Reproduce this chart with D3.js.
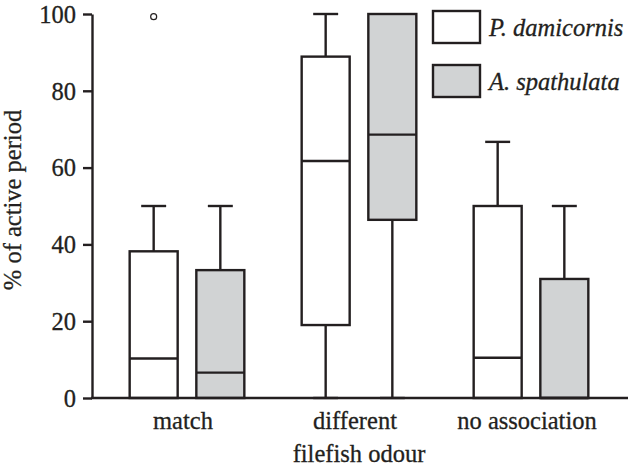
<!DOCTYPE html>
<html>
<head>
<meta charset="utf-8">
<script src="https://cdn.jsdelivr.net/npm/d3@7"></script>
<style>
  body { margin: 0; background: #fff; }
  svg { display: block; }
  svg text { font-family: "Liberation Serif", "Times New Roman", serif; fill: #231f20; stroke: #231f20; stroke-width: 0.3px; }
</style>
</head>
<body>
<div id="chart"></div>
<script>
// values (% of active period)
var categories = ["match", "different", "no association"];
var seriesNames = ["P. damicornis", "A. spathulata"];
var yTicks = [0, 20, 40, 60, 80, 100];

var pdMin = [0, 0, 0];
var pdQ1 = [0, 19, 0];
var pdMedian = [10.3, 61.7, 10.5];
var pdQ3 = [38.2, 88.9, 50];
var pdMax = [50, 100, 66.7];
var pdOutliers = [[99.3], [], []];

var asMin = [0, 0, 0];
var asQ1 = [0, 46.4, 0];
var asMedian = [6.6, 68.6, 0];
var asQ3 = [33.3, 100, 31];
var asMax = [50, 100, 50];
var asOutliers = [[], [], []];

var seriesFill = ["#ffffff", "#d1d3d4"];
var ink = "#231f20";
var fontFam = "'Liberation Serif', 'Times New Roman', serif";
var fontSize = 24.5;

var width = 628, height = 469;
var margin = { top: 14, right: 0, bottom: 71, left: 92 };

var svg = d3.select("#chart").append("svg")
    .attr("width", width)
    .attr("height", height)
    .attr("font-family", fontFam);

var y = d3.scaleLinear()
    .domain([0, 100])
    .range([height - margin.bottom, margin.top]);

var x = d3.scaleBand()
    .domain(categories)
    .range([101, 617]);

var xs = d3.scaleBand()
    .domain(seriesNames)
    .range([0, x.bandwidth()])
    .paddingInner(0.28)
    .paddingOuter(0.43);

// build per-box records from the arrays
var boxes = [];
categories.forEach(function(c, i) {
    boxes.push({ cat: c, ser: seriesNames[0], min: pdMin[i], q1: pdQ1[i], med: pdMedian[i], q3: pdQ3[i], max: pdMax[i], out: pdOutliers[i], fill: seriesFill[0] });
    boxes.push({ cat: c, ser: seriesNames[1], min: asMin[i], q1: asQ1[i], med: asMedian[i], q3: asQ3[i], max: asMax[i], out: asOutliers[i], fill: seriesFill[1] });
});

var bw = xs.bandwidth();
var capW = bw * 0.52;
var sw = 2.4;

var g = svg.append("g").attr("class", "boxes");

var box = g.selectAll("g.box")
    .data(boxes)
    .enter().append("g")
    .attr("class", "box")
    .attr("transform", function(d) { return "translate(" + (x(d.cat) + xs(d.ser)) + ",0)"; });

// upper whisker
box.filter(function(d) { return d.max > d.q3; }).each(function(d) {
    var s = d3.select(this);
    s.append("line")
        .attr("x1", bw / 2).attr("x2", bw / 2)
        .attr("y1", y(d.q3)).attr("y2", y(d.max))
        .attr("stroke", ink).attr("stroke-width", sw);
    s.append("line")
        .attr("x1", bw / 2 - capW / 2).attr("x2", bw / 2 + capW / 2)
        .attr("y1", y(d.max)).attr("y2", y(d.max))
        .attr("stroke", ink).attr("stroke-width", sw);
});

// lower whisker
box.filter(function(d) { return d.min < d.q1; }).each(function(d) {
    var s = d3.select(this);
    s.append("line")
        .attr("x1", bw / 2).attr("x2", bw / 2)
        .attr("y1", y(d.q1)).attr("y2", y(d.min))
        .attr("stroke", ink).attr("stroke-width", sw);
    s.append("line")
        .attr("x1", bw / 2 - capW / 2).attr("x2", bw / 2 + capW / 2)
        .attr("y1", y(d.min)).attr("y2", y(d.min))
        .attr("stroke", ink).attr("stroke-width", sw);
});

box.append("rect")
    .attr("x", 0)
    .attr("width", bw)
    .attr("y", function(d) { return y(d.q3); })
    .attr("height", function(d) { return y(d.q1) - y(d.q3); })
    .attr("fill", function(d) { return d.fill; })
    .attr("stroke", ink)
    .attr("stroke-width", sw);

box.append("line")
    .attr("x1", 0).attr("x2", bw)
    .attr("y1", function(d) { return y(d.med); })
    .attr("y2", function(d) { return y(d.med); })
    .attr("stroke", ink).attr("stroke-width", sw);

box.selectAll("circle")
    .data(function(d) { return d.out; })
    .enter().append("circle")
    .attr("cx", bw / 2)
    .attr("cy", function(v) { return y(v); })
    .attr("r", 3)
    .attr("fill", "none")
    .attr("stroke", ink)
    .attr("stroke-width", 1.2);

// y axis
var yAxis = svg.append("g")
    .attr("transform", "translate(" + margin.left + ",0)")
    .call(d3.axisLeft(y).tickValues(yTicks).tickSize(9).tickPadding(7).tickSizeOuter(0));
yAxis.attr("font-family", fontFam).attr("font-size", fontSize);
yAxis.select(".domain").attr("stroke", ink).attr("stroke-width", sw);
yAxis.selectAll(".tick line").attr("stroke", ink).attr("stroke-width", sw);
yAxis.selectAll(".tick text").attr("fill", ink).attr("dy", "0.34em");

// x axis
svg.append("line")
    .attr("x1", margin.left - 1).attr("x2", width)
    .attr("y1", y(0)).attr("y2", y(0))
    .attr("stroke", ink).attr("stroke-width", sw);

svg.selectAll("text.cat")
    .data(categories)
    .enter().append("text")
    .attr("class", "cat")
    .attr("x", function(d) { return x(d) + x.bandwidth() / 2 - 4; })
    .attr("y", 429)
    .attr("text-anchor", "middle")
    .attr("font-size", fontSize)
    .text(function(d) { return d; });

svg.append("text")
    .attr("x", 359)
    .attr("y", 462)
    .attr("text-anchor", "middle")
    .attr("font-size", fontSize)
    .text("filefish odour");

svg.append("text")
    .attr("transform", "rotate(-90)")
    .attr("x", -200)
    .attr("y", 21)
    .attr("text-anchor", "middle")
    .attr("font-size", fontSize)
    .text("% of active period");

// legend
var legend = svg.selectAll("g.legendg")
    .data(seriesNames)
    .enter().append("g")
    .attr("class", "legendg")
    .attr("transform", function(d, i) { return "translate(433," + (11 + i * 54) + ")"; });

legend.append("rect")
    .attr("width", 47)
    .attr("height", 32)
    .attr("fill", function(d, i) { return seriesFill[i]; })
    .attr("stroke", ink)
    .attr("stroke-width", sw);

legend.append("text")
    .attr("x", 56)
    .attr("y", 16)
    .attr("dy", "0.35em")
    .attr("font-size", fontSize)
    .attr("font-style", "italic")
    .text(function(d) { return d; });
</script>
</body>
</html>
